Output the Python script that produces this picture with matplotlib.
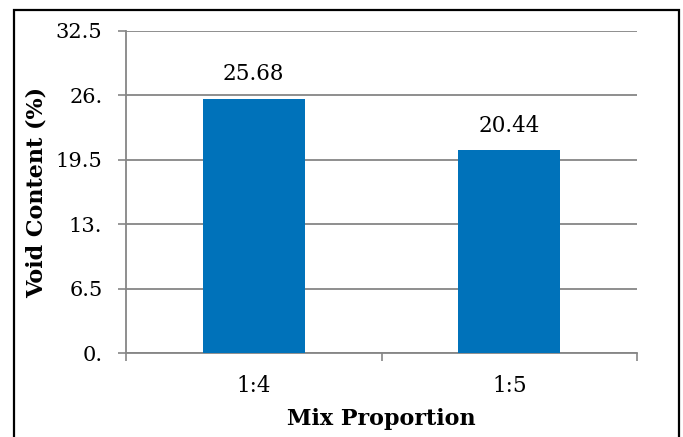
import matplotlib.pyplot as plt
from matplotlib.patches import Rectangle

categories = ['1:4', '1:5']
void_content = [25.68, 20.44]
y_ticks = [0, 6.5, 13, 19.5, 26, 32.5]
y_tick_labels = ['0.', '6.5', '13.', '19.5', '26.', '32.5']

plt.rcParams['font.family'] = ['DejaVu Serif']

fig = plt.figure(figsize=(6.83, 4.37), dpi=100)
ax = fig.add_axes([0.1845, 0.1922, 0.9327 - 0.1845, 0.9291 - 0.1922])

x = list(range(len(categories)))
bars = ax.bar(x, void_content, width=0.4, color='#0072BA', zorder=3)
for b, v in zip(bars, void_content):
    ax.text(b.get_x() + b.get_width() / 2, v + 1.85, f'{v:.2f}',
            ha='center', va='baseline', fontsize=15.5)

ax.set_xlim(-0.5, 1.5)
ax.set_ylim(0, 32.5)
ax.set_yticks(y_ticks)
ax.set_yticklabels(y_tick_labels, fontsize=15)

# major ticks at category borders, labels on minor ticks
ax.set_xticks([-0.5, 0.5, 1.5])
ax.set_xticklabels([])
ax.set_xticks(x, minor=True)
ax.set_xticklabels(categories, minor=True, fontsize=15.5)
ax.tick_params(axis='x', which='minor', length=0, pad=16)
ax.tick_params(axis='x', which='major', length=6, width=1.2, color='#868686')
ax.tick_params(axis='y', length=6, width=1.2, color='#868686', pad=11)

ax.yaxis.grid(True, color='#868686', linewidth=1.3, zorder=0)
ax.set_axisbelow(True)
for s in ['top', 'right']:
    ax.spines[s].set_visible(False)
for s in ['left', 'bottom']:
    ax.spines[s].set_color('#868686')
    ax.spines[s].set_linewidth(1.3)

ax.set_xlabel('Mix Proportion', fontsize=16, fontweight='bold', va='center')
ax.xaxis.set_label_coords(0.5, -0.205)
ax.set_ylabel('Void Content (%)', fontsize=16, fontweight='bold', va='center')
ax.yaxis.set_label_coords(-0.174, 0.5)

# outer frame
fig.patches.append(Rectangle((14 / 683, -0.1), 665 / 683, 1.1 - 10 / 437,
                             transform=fig.transFigure, fill=False,
                             edgecolor='black', linewidth=1.6))

fig.savefig('out.png', dpi=100)
